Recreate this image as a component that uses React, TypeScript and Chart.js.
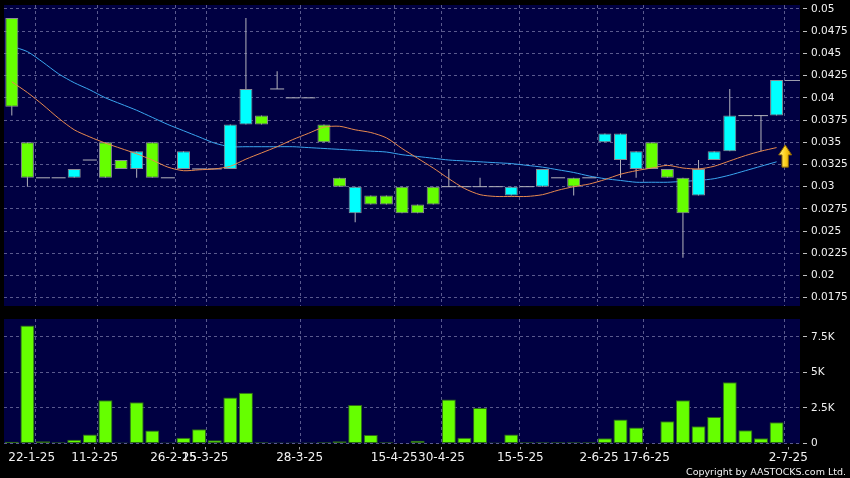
import React, { useEffect, useRef } from 'react';
import { Chart, registerables } from 'chart.js';

Chart.register(...registerables);

// ---- data ----
const opens = [0.049, 0.035, 0.031, 0.031, 0.031, 0.033, 0.035, 0.033, 0.032, 0.035,
  0.031, 0.032, 0.032, 0.032, 0.032, 0.037, 0.038, 0.041, 0.040, 0.040,
  0.037, 0.031, 0.027, 0.029, 0.029, 0.030, 0.028, 0.030, 0.030, 0.030,
  0.030, 0.030, 0.029, 0.030, 0.030, 0.031, 0.031, 0.031, 0.035, 0.033,
  0.032, 0.035, 0.032, 0.031, 0.029, 0.033, 0.034, 0.038, 0.038, 0.038];
const closes = [0.039, 0.031, 0.031, 0.031, 0.032, 0.033, 0.031, 0.032, 0.034, 0.031,
  0.031, 0.034, 0.032, 0.032, 0.037, 0.041, 0.037, 0.041, 0.040, 0.040,
  0.035, 0.030, 0.030, 0.028, 0.028, 0.027, 0.027, 0.028, 0.030, 0.030,
  0.030, 0.030, 0.030, 0.030, 0.032, 0.031, 0.030, 0.031, 0.036, 0.036,
  0.034, 0.032, 0.031, 0.027, 0.032, 0.034, 0.038, 0.038, 0.038, 0.042];
const highs = [0.049, 0.035, 0.031, 0.031, 0.032, 0.033, 0.035, 0.033, 0.034, 0.035,
  0.031, 0.034, 0.032, 0.032, 0.037, 0.049, 0.038, 0.043, 0.040, 0.040,
  0.037, 0.031, 0.030, 0.029, 0.029, 0.030, 0.028, 0.030, 0.032, 0.030,
  0.031, 0.030, 0.030, 0.030, 0.032, 0.031, 0.031, 0.031, 0.036, 0.036,
  0.034, 0.035, 0.032, 0.031, 0.033, 0.034, 0.041, 0.038, 0.038, 0.042];
const lows = [0.038, 0.030, 0.031, 0.031, 0.031, 0.033, 0.031, 0.032, 0.031, 0.031,
  0.031, 0.032, 0.032, 0.032, 0.032, 0.037, 0.037, 0.041, 0.040, 0.040,
  0.035, 0.030, 0.026, 0.028, 0.028, 0.027, 0.027, 0.028, 0.030, 0.030,
  0.030, 0.030, 0.029, 0.030, 0.030, 0.031, 0.029, 0.031, 0.035, 0.031,
  0.031, 0.032, 0.031, 0.022, 0.029, 0.033, 0.034, 0.038, 0.034, 0.038];
const volumes = [120, 8300, 160, 90, 260, 630, 3040, 70, 2900, 910,
  70, 400, 1000, 230, 3230, 3560, 90, 70, 70, 70,
  90, 160, 2700, 590, 90, 0, 190, 0, 3100, 400,
  2500, 70, 630, 90, 90, 90, 90, 90, 370, 1680,
  1120, 0, 1570, 3040, 1220, 1870, 4300, 940, 370, 1500];
const maShort = [0.0418, 0.0406, 0.0392, 0.0377, 0.0364, 0.0356, 0.0349, 0.0343, 0.0337, 0.0330,
  0.0322, 0.0318, 0.0319, 0.0320, 0.0323, 0.0331, 0.0338, 0.0345, 0.0353, 0.0360,
  0.0367, 0.0368, 0.0364, 0.0361, 0.0355, 0.0343, 0.0332, 0.0321, 0.0309, 0.0298,
  0.0291, 0.0289, 0.0289, 0.0289, 0.0291, 0.0296, 0.0300, 0.0303, 0.0308, 0.0314,
  0.0318, 0.0321, 0.0324, 0.0321, 0.0320, 0.0323, 0.0329, 0.0335, 0.0340, 0.0344];
const maLong = [0.0458, 0.0452, 0.0440, 0.0427, 0.0417, 0.0409, 0.0400, 0.0393, 0.0386, 0.0378,
  0.0370, 0.0363, 0.0356, 0.0349, 0.0345, 0.0345, 0.0345, 0.0345, 0.0345, 0.0344,
  0.0343, 0.0342, 0.0341, 0.0340, 0.0339, 0.0336, 0.0334, 0.0332, 0.0330, 0.0329,
  0.0328, 0.0327, 0.0326, 0.0324, 0.0322, 0.0319, 0.0316, 0.0312, 0.0309, 0.0307,
  0.0305, 0.0305, 0.0305, 0.0306, 0.0307, 0.0309, 0.0313, 0.0318, 0.0323, 0.0328];
const dateTickPositions = [1.5, 5.5, 10.5, 12.5, 18.5, 24.5, 27.5, 32.5, 37.5, 40.5, 49.5];
const dateTickLabels = ['22-1-25', '11-2-25', '26-2-25', '15-3-25', '28-3-25', '15-4-25',
  '30-4-25', '15-5-25', '2-6-25', '17-6-25', '2-7-25'];
const priceTicks = [0.0175, 0.02, 0.0225, 0.025, 0.0275, 0.03, 0.0325, 0.035, 0.0375,
  0.04, 0.0425, 0.045, 0.0475, 0.05];
const volumeTicks = [0, 2500, 5000, 7500];
const signalArrow = { x: 49.55, top: 0.0347, bottom: 0.0322 };

// ---- styles ----
const NAVY = '#000042';
const GRID = '#5a5a8e';
const GREEN = '#66ff00';
const CYAN = '#00ffff';
const WICK = '#b4b4bc';
const LABEL = '#f2f2f2';
const FONT = 'DejaVu Sans';

const bgPlugin = {
  id: 'plotBg',
  beforeDraw(chart: any) {
    const { ctx, chartArea: a } = chart;
    ctx.save();
    ctx.fillStyle = NAVY;
    ctx.fillRect(a.left, a.top, a.right - a.left, a.bottom - a.top);
    ctx.restore();
  },
};

// grid-only x axis (dashed vertical lines at the date boundaries)
function gridXAxis(): any {
  return {
    type: 'linear',
    position: 'bottom',
    min: -0.5,
    max: 50.5,
    offset: false,
    grid: { offset: false, color: GRID, lineWidth: 1, drawTicks: false },
    border: { display: false, dash: [3, 3] },
    ticks: { display: false },
    afterBuildTicks: (s: any) => { s.ticks = dateTickPositions.map((v) => ({ value: v })); },
    afterFit: (s: any) => { s.height = 0; s.paddingLeft = 0; s.paddingRight = 0; },
  };
}

// label x axis (date labels with small tick marks)
function labelXAxis(): any {
  return {
    type: 'linear',
    position: 'bottom',
    min: -0.257,
    max: 50.243,
    offset: false,
    grid: {
      offset: false, drawOnChartArea: false, drawTicks: true, tickLength: 6,
      tickColor: '#a0a0a0', tickBorderDash: [0, 3, 3, 40],
    },
    border: { display: false },
    ticks: {
      autoSkip: false, maxRotation: 0, minRotation: 0, padding: 1,
      color: LABEL, font: { family: FONT, size: 12 },
      callback: (_v: any, i: number) => dateTickLabels[i],
    },
    afterBuildTicks: (s: any) => { s.ticks = dateTickPositions.map((v) => ({ value: v })); },
    afterFit: (s: any) => { s.height = 34.5; s.paddingLeft = 0; s.paddingRight = 0; },
  };
}

function yAxis(min: number, max: number, ticks: number[], fmt: (v: number) => string): any {
  return {
    type: 'linear',
    position: 'right',
    min, max,
    grid: { color: GRID, lineWidth: 1, tickLength: 7, tickColor: '#c0c0c0', tickBorderDash: [0, 3, 4, 40] },
    border: { display: false, dash: [3, 3] },
    ticks: { color: LABEL, font: { family: FONT, size: 10.5 }, padding: 4, callback: (v: any) => fmt(Number(v)) },
    afterBuildTicks: (s: any) => { s.ticks = ticks.map((v) => ({ value: v })); },
    afterFit: (s: any) => { s.width = 50; s.paddingTop = 0; s.paddingBottom = 0; },
  };
}

export default function App() {
  const priceRef = useRef<HTMLCanvasElement>(null);
  const volRef = useRef<HTMLCanvasElement>(null);

  useEffect(() => {
    const n = opens.length;
    const idx = Array.from({ length: n }, (_, i) => i);
    const bodyIdx = idx.filter((i) => opens[i] !== closes[i]);
    const dojiIdx = idx.filter((i) => opens[i] === closes[i]);
    const wickIdx = idx.filter((i) => highs[i] > lows[i]);
    const last = n - 1;

    const overlayPlugin = {
      id: 'overlay',
      afterDatasetsDraw(chart: any) {
        const { ctx, chartArea: a, scales } = chart;
        const xs = scales.x, ys = scales.y;
        ctx.save();
        // last price line
        const yl = Math.round(ys.getPixelForValue(closes[last])) + 0.5;
        ctx.strokeStyle = '#9c9cae';
        ctx.lineWidth = 1;
        ctx.beginPath();
        ctx.moveTo(xs.getPixelForValue(last + 0.5), yl);
        ctx.lineTo(a.right, yl);
        ctx.stroke();
        // signal arrow
        const cx = xs.getPixelForValue(signalArrow.x);
        const yt = ys.getPixelForValue(signalArrow.top);
        const yb = ys.getPixelForValue(signalArrow.bottom);
        const hh = (yb - yt) * 0.45;
        const hw = 6.5, sw = 3.2;
        const g = ctx.createLinearGradient(cx - hw, 0, cx + hw, 0);
        g.addColorStop(0, '#fff08a');
        g.addColorStop(0.5, '#ffd21f');
        g.addColorStop(1, '#d99a00');
        ctx.fillStyle = g;
        ctx.strokeStyle = '#8a6200';
        ctx.beginPath();
        ctx.moveTo(cx, yt);
        ctx.lineTo(cx + hw, yt + hh);
        ctx.lineTo(cx + sw, yt + hh);
        ctx.lineTo(cx + sw, yb);
        ctx.lineTo(cx - sw, yb);
        ctx.lineTo(cx - sw, yt + hh);
        ctx.lineTo(cx - hw, yt + hh);
        ctx.closePath();
        ctx.fill();
        ctx.stroke();
        ctx.restore();
      },
    };

    const priceChart = new Chart(priceRef.current as HTMLCanvasElement, {
      type: 'bar',
      data: {
        datasets: [
          {
            type: 'line', label: 'MA short',
            data: maShort.map((v, i) => ({ x: i, y: v })),
            borderColor: '#e8894f', borderWidth: 1, pointRadius: 0, tension: 0.25, order: 1,
          },
          {
            type: 'line', label: 'doji',
            data: dojiIdx.map((i) => ({ x: i, y: opens[i] })),
            showLine: false, pointStyle: 'line', pointRadius: 7, pointHoverRadius: 7,
            pointBorderColor: WICK, pointBorderWidth: 1, order: 2,
          },
          {
            type: 'bar', label: 'body',
            data: bodyIdx.map((i) => ({ x: i, y: [opens[i], closes[i]] })),
            backgroundColor: bodyIdx.map((i) => (closes[i] > opens[i] ? CYAN : GREEN)),
            borderColor: '#8c8c94', borderWidth: 1, borderSkipped: false, inflateAmount: 0,
            barThickness: 13, grouped: false, order: 3,
          },
          {
            type: 'line', label: 'MA long',
            data: maLong.map((v, i) => ({ x: i, y: v })),
            borderColor: '#3aa6f0', borderWidth: 1, pointRadius: 0, tension: 0.25, order: 4,
          },
          {
            type: 'bar', label: 'wick',
            data: wickIdx.map((i) => ({ x: i, y: [lows[i], highs[i]] })),
            backgroundColor: WICK, borderWidth: 0, inflateAmount: 0,
            barThickness: 1, grouped: false, order: 5,
          },
        ] as any,
      },
      options: {
        responsive: false,
        animation: false,
        devicePixelRatio: 1,
        layout: { autoPadding: false, padding: { left: 4, top: 5, right: 0, bottom: 4 } },
        plugins: { legend: { display: false }, tooltip: { enabled: false } },
        scales: {
          x: gridXAxis(),
          y: yAxis(0.01657, 0.05045, priceTicks, (v) => String(Number(v.toFixed(4)))),
        },
      } as any,
      plugins: [bgPlugin, overlayPlugin],
    });

    const volChart = new Chart(volRef.current as HTMLCanvasElement, {
      type: 'bar',
      data: {
        datasets: [
          {
            label: 'Volume',
            data: volumes.map((v, i) => ({ x: i, y: v })),
            xAxisID: 'x',
            backgroundColor: GREEN, borderColor: '#2f6a18', borderWidth: 1,
            borderSkipped: false, inflateAmount: 0, barThickness: 14, grouped: false,
          },
        ] as any,
      },
      options: {
        responsive: false,
        animation: false,
        devicePixelRatio: 1,
        layout: { autoPadding: false, padding: { left: 4, top: 9, right: 0, bottom: 0 } },
        plugins: { legend: { display: false }, tooltip: { enabled: false } },
        scales: {
          x: gridXAxis(),
          xl: labelXAxis(),
          y: yAxis(0, 8750, volumeTicks, (v) => (v === 0 ? '0' : `${v / 1000}K`)),
        },
      } as any,
      plugins: [bgPlugin],
    });

    return () => {
      priceChart.destroy();
      volChart.destroy();
    };
  }, []);

  return (
    <div style={{ position: 'absolute', left: 0, top: 0, width: 850, height: 478, background: '#000', overflow: 'hidden' }}>
      <canvas ref={priceRef} width={850} height={310} style={{ position: 'absolute', left: 0, top: 0 }} />
      <canvas ref={volRef} width={850} height={168} style={{ position: 'absolute', left: 0, top: 310 }} />
      <div style={{
        position: 'absolute', right: 4, top: 466, color: '#f2f2f2',
        fontFamily: FONT, fontSize: 9.5, lineHeight: '11px', whiteSpace: 'nowrap',
      }}>
        Copyright by AASTOCKS.com Ltd.
      </div>
    </div>
  );
}
